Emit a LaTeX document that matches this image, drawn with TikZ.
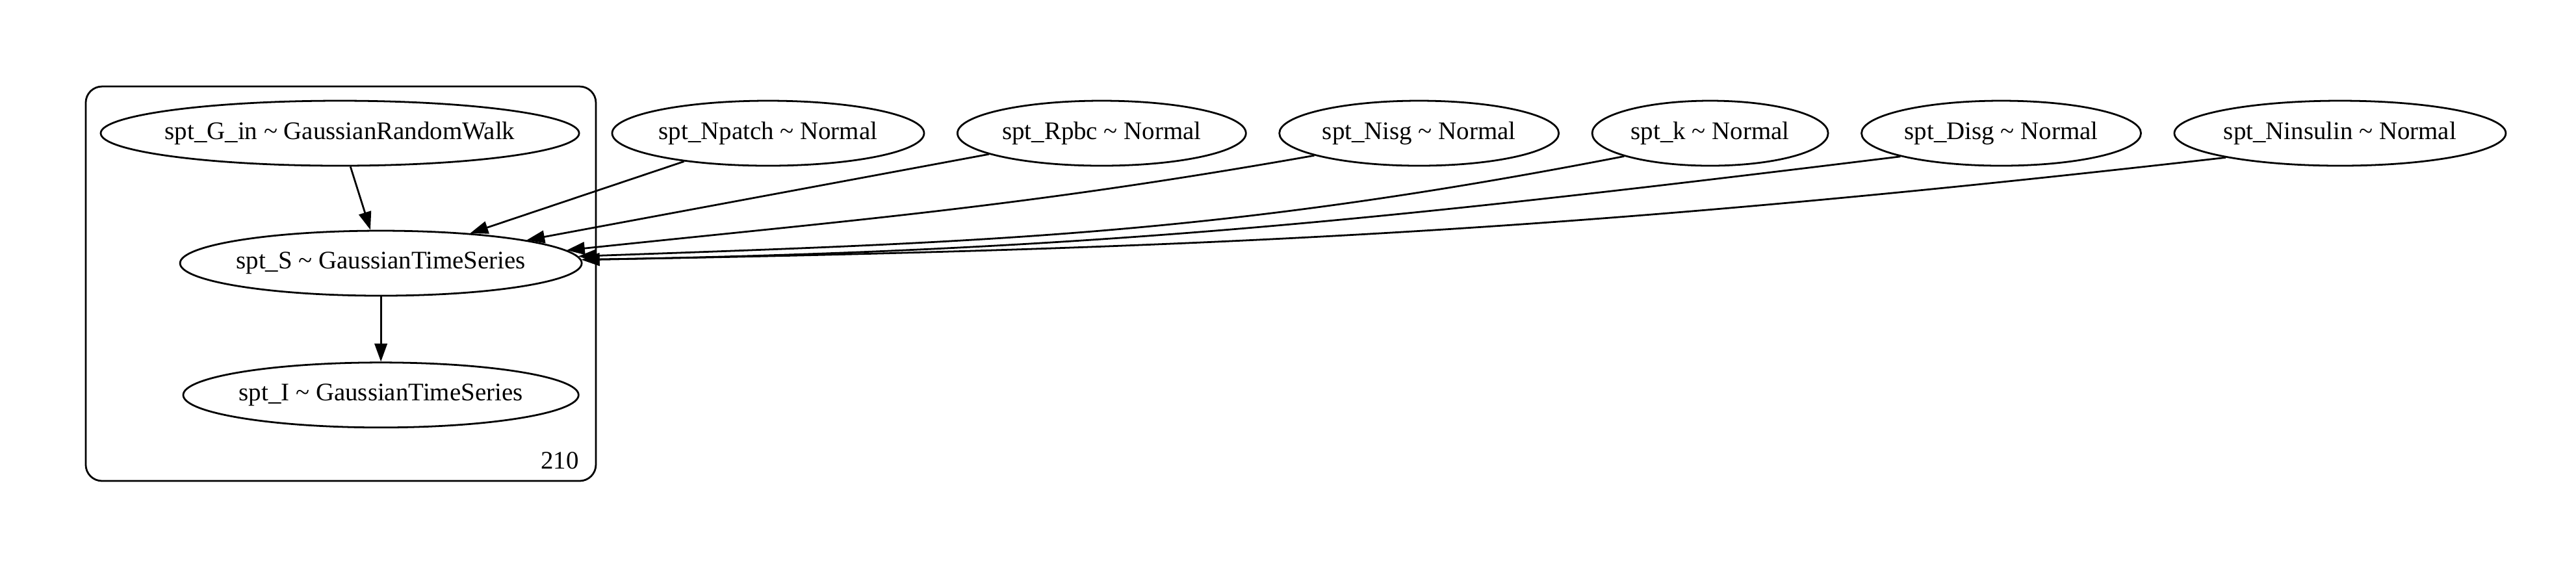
\documentclass[tikz,border=0pt]{standalone}
\usepackage{fontspec}
\setmainfont{Liberation Serif}
\usetikzlibrary{arrows.meta,positioning,shapes.geometric}

\begin{document}
\begin{tikzpicture}[->,>={Triangle[length=10pt,width=7pt]},line width=1pt,node distance=17.5pt,
  rv node/.style={ellipse,draw,inner xsep=-6pt,inner ysep=0pt,minimum height=36pt,font=\fontsize{14pt}{16pt}\selectfont},
  plate/.style={draw,-,rounded corners=9pt}]
	\useasboundingbox (0,0) rectangle (1427pt,-314.3pt);

	% plate of size 210
	\draw[plate] (47.5pt,-47.9pt) rectangle (330.1pt,-266.4pt);
	\node[anchor=base east,inner sep=0pt,font=\fontsize{14pt}{16pt}\selectfont] (N) at (321.1pt,-259.9pt) {210};

	\node[rv node,minimum width=265pt] (Gin) at (188.3pt,-73.8pt) {spt\_G\_in \textasciitilde{} GaussianRandomWalk};
	\node[rv node,minimum width=222.5pt] (S) at (211pt,-145.8pt) {spt\_S \textasciitilde{} GaussianTimeSeries};
	\node[rv node,minimum width=219pt] (I) [below=36pt of S] {spt\_I \textasciitilde{} GaussianTimeSeries};

	% free parameters
	\node[rv node,minimum width=172.8pt] (Npatch) at (425.5pt,-73.8pt) {spt\_Npatch \textasciitilde{} Normal};
	\node[rv node,minimum width=159.8pt] (Rpbc) [right=of Npatch] {spt\_Rpbc \textasciitilde{} Normal};
	\node[rv node,minimum width=154.8pt] (Nisg) [right=of Rpbc] {spt\_Nisg \textasciitilde{} Normal};
	\node[rv node,minimum width=130.7pt] (k) [right=of Nisg] {spt\_k \textasciitilde{} Normal};
	\node[rv node,minimum width=154.8pt] (Disg) [right=of k] {spt\_Disg \textasciitilde{} Normal};
	\node[rv node,minimum width=183.6pt] (Ninsulin) [right=of Disg] {spt\_Ninsulin \textasciitilde{} Normal};

	\path
	    (Gin) edge (S)
	    (S) edge (I)
	    (Npatch) edge (S)
	    (Rpbc) edge (S.9)
	    (Nisg.192) edge[out=190,in=6] (S.4)
	    (k.195) edge[out=191,in=2] (S.2)
	    (Disg.193) edge[out=187,in=1] (S.1)
	    (Ninsulin.192) edge[out=186.5,in=1] (S.1);
\end{tikzpicture}
\end{document}
